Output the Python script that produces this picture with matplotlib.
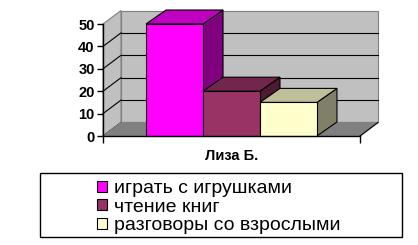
import matplotlib
matplotlib.use('Agg')
import matplotlib.pyplot as plt
from matplotlib.patches import Polygon, Patch, Rectangle
from matplotlib.transforms import IdentityTransform

plt.rcParams['font.family'] = ['Liberation Sans', 'DejaVu Sans']

category = 'Лиза Б.'
series_names = ['играть с игрушками', 'чтение книг', 'разговоры со взрослыми']
values = [50, 20, 15]
front_colors = ['#ff00ff', '#993366', '#ffffcc']
top_colors = ['#c000c0', '#73264d', '#bfbf99']
side_colors = ['#800080', '#4d1a33', '#808066']

fig = plt.figure(figsize=(4.18, 2.45), dpi=100)
ax = fig.add_axes([103/418, 109/245, 257/418, 112/245])
ax.set_xlim(-2.255, 2.255)
ax.set_ylim(0, 50)
ax.patch.set_visible(False)

# depth offsets in pixels
wall_dx, wall_dy = 18, 13.5
bar_dx, bar_dy = 20, 14

def disp(x, y, dx=0, dy=0):
    p = ax.transData.transform((x, y))
    return (p[0] + dx, p[1] + dy)

def poly(pts, fc, ec, lw=0.8, z=1):
    ax.add_patch(Polygon(pts, closed=True, facecolor=fc, edgecolor=ec, linewidth=lw,
                         transform=IdentityTransform(), clip_on=False, zorder=z))

def line(p0, p1, color='black', lw=0.8, z=1.5):
    ax.add_line(plt.Line2D([p0[0], p1[0]], [p0[1], p1[1]], color=color, linewidth=lw,
                           transform=IdentityTransform(), clip_on=False, zorder=z))

xl, xr = ax.get_xlim()
ymax = 50

# back wall
poly([disp(xl, 0, wall_dx, wall_dy), disp(xr, 0, wall_dx, wall_dy),
      disp(xr, ymax, wall_dx, wall_dy), disp(xl, ymax, wall_dx, wall_dy)],
     '#c0c0c0', '#808080', z=1)
# left wall
poly([disp(xl, 0), disp(xl, 0, wall_dx, wall_dy),
      disp(xl, ymax, wall_dx, wall_dy), disp(xl, ymax)],
     '#c0c0c0', '#808080', z=1)
# gridlines
for v in range(10, 50, 10):
    line(disp(xl, v, wall_dx, wall_dy), disp(xr, v, wall_dx, wall_dy))
for v in range(0, 50, 10):
    line(disp(xl, v), disp(xl, v, wall_dx, wall_dy))
# floor
poly([disp(xl, 0), disp(xr, 0), disp(xr, 0, wall_dx, wall_dy), disp(xl, 0, wall_dx, wall_dy)],
     '#808080', '#808080', z=2)
line(disp(xr, 0), disp(xr, 0, wall_dx, wall_dy), z=2.1)

# bars
for i, (v, name) in enumerate(zip(values, series_names)):
    x0 = i - 1.5
    x1 = x0 + 1
    z = 3 + i
    poly([disp(x1, 0), disp(x1, 0, bar_dx, bar_dy), disp(x1, v, bar_dx, bar_dy), disp(x1, v)],
         side_colors[i], 'black', z=z)
    poly([disp(x0, v), disp(x1, v), disp(x1, v, bar_dx, bar_dy), disp(x0, v, bar_dx, bar_dy)],
         top_colors[i], 'black', z=z)
    ax.bar(x0, v, width=1, align='edge', color=front_colors[i], edgecolor='black',
           linewidth=0.8, zorder=z + 0.5, clip_on=False)

for s in ['top', 'right']:
    ax.spines[s].set_visible(False)
for s in ['left', 'bottom']:
    ax.spines[s].set_linewidth(1)
    ax.spines[s].set_zorder(10)

ax.set_yticks(range(0, 51, 10))
ax.tick_params(axis='y', direction='out', length=4, width=1, pad=2, labelsize=10.5)
for t in ax.get_yticklabels():
    t.set_fontweight('bold')
ax.set_xticks([0])
ax.set_xticklabels([category], fontsize=10.5, fontweight='bold')
ax.tick_params(axis='x', which='major', length=0, pad=9)
ax.set_xticks([xl, xr], minor=True)
ax.tick_params(axis='x', which='minor', direction='out', length=5, width=1)

handles = [Patch(facecolor=c, edgecolor='black', linewidth=0.8) for c in front_colors]
fig.legend(handles, series_names, loc='upper left', bbox_to_anchor=(97/418, 1 - 180/245),
           frameon=False, fontsize=14, handlelength=0.5, handleheight=0.5,
           handletextpad=0.36, labelspacing=0.08, borderpad=0, borderaxespad=0)
fig.add_artist(Rectangle((40/418, 8/245), 362/418, 64/245, transform=fig.transFigure,
                         fill=False, edgecolor='black', linewidth=1))

fig.savefig('out.png', dpi=100)
